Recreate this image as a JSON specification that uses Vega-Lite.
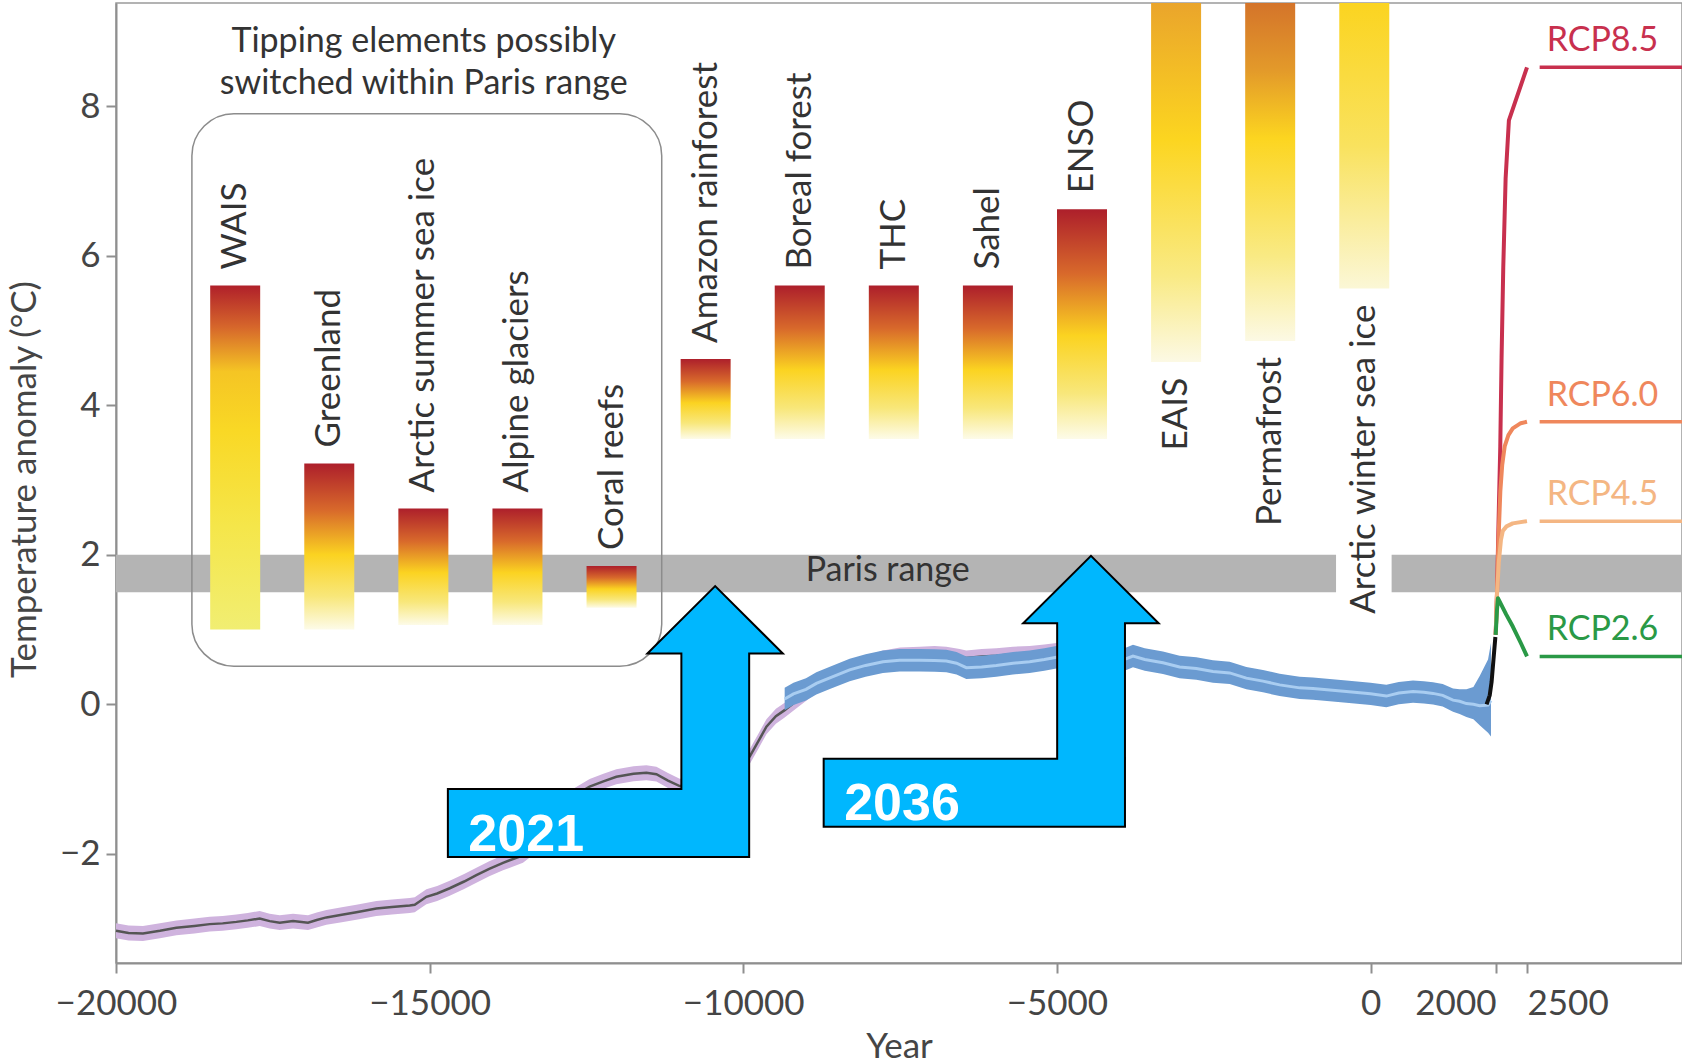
{
  "$schema": "https://vega.github.io/schema/vega-lite/v6.json",
  "autosize": {"type": "none"},
  "padding": {"left": 116, "top": 3, "right": 0, "bottom": 101},
  "width": 1566,
  "height": 960,
  "background": "white",
  "config": {
    "font": "Lato",
    "view": {"stroke": "#9a9a9a", "strokeWidth": 1.5},
    "text": {"font": "Lato"}
  },
  "datasets": {
    "paris": [
      {"x": -20000, "x2": -550, "y": 1.5, "y2": 2.0},
      {"x": 336, "x2": 6000, "y": 1.5, "y2": 2.0}
    ],
    "box": [{"x": -18790, "x2": -11300, "y": 0.51, "y2": 7.9}],
    "shakun": [
      {"x": -20000, "y": -3.03, "lo": -3.13, "hi": -2.93},
      {"x": -19800, "y": -3.06, "lo": -3.16, "hi": -2.96},
      {"x": -19570, "y": -3.065, "lo": -3.165, "hi": -2.965},
      {"x": -19300, "y": -3.03, "lo": -3.13, "hi": -2.93},
      {"x": -19037, "y": -2.99, "lo": -3.09, "hi": -2.89},
      {"x": -18750, "y": -2.965, "lo": -3.065, "hi": -2.865},
      {"x": -18506, "y": -2.94, "lo": -3.04, "hi": -2.84},
      {"x": -18300, "y": -2.93, "lo": -3.03, "hi": -2.83},
      {"x": -18081, "y": -2.91, "lo": -3.01, "hi": -2.81},
      {"x": -17900, "y": -2.89, "lo": -2.99, "hi": -2.79},
      {"x": -17709, "y": -2.865, "lo": -2.965, "hi": -2.765},
      {"x": -17550, "y": -2.9, "lo": -3.0, "hi": -2.8},
      {"x": -17390, "y": -2.92, "lo": -3.02, "hi": -2.82},
      {"x": -17178, "y": -2.9, "lo": -3.0, "hi": -2.8},
      {"x": -16939, "y": -2.92, "lo": -3.02, "hi": -2.82},
      {"x": -16800, "y": -2.885, "lo": -2.985, "hi": -2.785},
      {"x": -16646, "y": -2.85, "lo": -2.95, "hi": -2.75},
      {"x": -16400, "y": -2.815, "lo": -2.915, "hi": -2.715},
      {"x": -16168, "y": -2.78, "lo": -2.88, "hi": -2.68},
      {"x": -15849, "y": -2.73, "lo": -2.83, "hi": -2.63},
      {"x": -15600, "y": -2.71, "lo": -2.81, "hi": -2.61},
      {"x": -15318, "y": -2.69, "lo": -2.79, "hi": -2.59},
      {"x": -15238, "y": -2.68, "lo": -2.78, "hi": -2.58},
      {"x": -15052, "y": -2.575, "lo": -2.675, "hi": -2.475},
      {"x": -14880, "y": -2.53, "lo": -2.63, "hi": -2.43},
      {"x": -14680, "y": -2.46, "lo": -2.56, "hi": -2.36},
      {"x": -14450, "y": -2.37, "lo": -2.47, "hi": -2.27},
      {"x": -14255, "y": -2.285, "lo": -2.385, "hi": -2.185},
      {"x": -14050, "y": -2.2, "lo": -2.3, "hi": -2.1},
      {"x": -13830, "y": -2.12, "lo": -2.22, "hi": -2.02},
      {"x": -13512, "y": -2.02, "lo": -2.12, "hi": -1.92},
      {"x": -13250, "y": -1.85, "lo": -1.95, "hi": -1.75},
      {"x": -13000, "y": -1.55, "lo": -1.65, "hi": -1.45},
      {"x": -12750, "y": -1.25, "lo": -1.35, "hi": -1.15},
      {"x": -12449, "y": -1.1, "lo": -1.2, "hi": -1.0},
      {"x": -12230, "y": -1.03, "lo": -1.13, "hi": -0.93},
      {"x": -12023, "y": -0.97, "lo": -1.07, "hi": -0.87},
      {"x": -11750, "y": -0.93, "lo": -1.03, "hi": -0.83},
      {"x": -11545, "y": -0.916, "lo": -1.016, "hi": -0.816},
      {"x": -11385, "y": -0.934, "lo": -1.034, "hi": -0.834},
      {"x": -11200, "y": -1.02, "lo": -1.12, "hi": -0.92},
      {"x": -11014, "y": -1.094, "lo": -1.194, "hi": -0.994},
      {"x": -10700, "y": -1.08, "lo": -1.18, "hi": -0.98},
      {"x": -10400, "y": -0.95, "lo": -1.05, "hi": -0.85},
      {"x": -10100, "y": -0.8, "lo": -0.9, "hi": -0.7},
      {"x": -9898, "y": -0.7, "lo": -0.8, "hi": -0.6},
      {"x": -9750, "y": -0.48, "lo": -0.58, "hi": -0.38},
      {"x": -9631, "y": -0.3, "lo": -0.4, "hi": -0.2},
      {"x": -9480, "y": -0.16, "lo": -0.26, "hi": -0.06},
      {"x": -9340, "y": -0.078, "lo": -0.178, "hi": 0.022},
      {"x": -9100, "y": 0.08, "lo": -0.02, "hi": 0.18},
      {"x": -8835, "y": 0.25, "lo": 0.15, "hi": 0.35},
      {"x": -8550, "y": 0.37, "lo": 0.27, "hi": 0.47},
      {"x": -8304, "y": 0.46, "lo": 0.36, "hi": 0.56},
      {"x": -8000, "y": 0.56, "lo": 0.46, "hi": 0.66},
      {"x": -7773, "y": 0.62, "lo": 0.52, "hi": 0.72},
      {"x": -7500, "y": 0.66, "lo": 0.56, "hi": 0.76},
      {"x": -7188, "y": 0.67, "lo": 0.57, "hi": 0.77},
      {"x": -6950, "y": 0.68, "lo": 0.58, "hi": 0.78},
      {"x": -6763, "y": 0.67, "lo": 0.57, "hi": 0.77},
      {"x": -6550, "y": 0.64, "lo": 0.54, "hi": 0.74},
      {"x": -6444, "y": 0.62, "lo": 0.52, "hi": 0.72},
      {"x": -6200, "y": 0.64, "lo": 0.54, "hi": 0.74},
      {"x": -5966, "y": 0.65, "lo": 0.55, "hi": 0.75},
      {"x": -5700, "y": 0.67, "lo": 0.57, "hi": 0.77},
      {"x": -5435, "y": 0.68, "lo": 0.58, "hi": 0.78},
      {"x": -5200, "y": 0.7, "lo": 0.6, "hi": 0.8},
      {"x": -5009, "y": 0.72, "lo": 0.62, "hi": 0.82},
      {"x": -4700, "y": 0.72, "lo": 0.62, "hi": 0.82}
    ],
    "marcott": [
      {"x": -9340, "y": 0.07, "lo": -0.08, "hi": 0.22},
      {"x": -9200, "y": 0.14, "lo": -0.01, "hi": 0.29},
      {"x": -9000, "y": 0.2, "lo": 0.05, "hi": 0.35},
      {"x": -8835, "y": 0.28, "lo": 0.13, "hi": 0.43},
      {"x": -8600, "y": 0.36, "lo": 0.21, "hi": 0.51},
      {"x": -8304, "y": 0.46, "lo": 0.31, "hi": 0.61},
      {"x": -8050, "y": 0.52, "lo": 0.37, "hi": 0.67},
      {"x": -7773, "y": 0.57, "lo": 0.42, "hi": 0.72},
      {"x": -7507, "y": 0.59, "lo": 0.44, "hi": 0.74},
      {"x": -7188, "y": 0.59, "lo": 0.44, "hi": 0.74},
      {"x": -6950, "y": 0.585, "lo": 0.435, "hi": 0.735},
      {"x": -6763, "y": 0.58, "lo": 0.43, "hi": 0.73},
      {"x": -6600, "y": 0.55, "lo": 0.4, "hi": 0.7},
      {"x": -6444, "y": 0.49, "lo": 0.34, "hi": 0.64},
      {"x": -6200, "y": 0.5, "lo": 0.35, "hi": 0.65},
      {"x": -5966, "y": 0.52, "lo": 0.37, "hi": 0.67},
      {"x": -5700, "y": 0.55, "lo": 0.4, "hi": 0.7},
      {"x": -5435, "y": 0.57, "lo": 0.42, "hi": 0.72},
      {"x": -5200, "y": 0.6, "lo": 0.45, "hi": 0.75},
      {"x": -5009, "y": 0.63, "lo": 0.48, "hi": 0.78},
      {"x": -4500, "y": 0.63, "lo": 0.48, "hi": 0.78},
      {"x": -4200, "y": 0.62, "lo": 0.47, "hi": 0.77},
      {"x": -3893, "y": 0.61, "lo": 0.46, "hi": 0.76},
      {"x": -3787, "y": 0.645, "lo": 0.495, "hi": 0.795},
      {"x": -3600, "y": 0.6, "lo": 0.45, "hi": 0.75},
      {"x": -3309, "y": 0.555, "lo": 0.405, "hi": 0.705},
      {"x": -3044, "y": 0.5, "lo": 0.35, "hi": 0.65},
      {"x": -2777, "y": 0.48, "lo": 0.33, "hi": 0.63},
      {"x": -2512, "y": 0.44, "lo": 0.29, "hi": 0.59},
      {"x": -2246, "y": 0.42, "lo": 0.27, "hi": 0.57},
      {"x": -1980, "y": 0.35, "lo": 0.2, "hi": 0.5},
      {"x": -1715, "y": 0.31, "lo": 0.16, "hi": 0.46},
      {"x": -1449, "y": 0.26, "lo": 0.11, "hi": 0.41},
      {"x": -1130, "y": 0.22, "lo": 0.07, "hi": 0.37},
      {"x": -917, "y": 0.21, "lo": 0.06, "hi": 0.36},
      {"x": -650, "y": 0.19, "lo": 0.04, "hi": 0.34},
      {"x": -386, "y": 0.17, "lo": 0.02, "hi": 0.32},
      {"x": 0, "y": 0.14, "lo": -0.01, "hi": 0.29},
      {"x": 252, "y": 0.11, "lo": -0.04, "hi": 0.26},
      {"x": 450, "y": 0.15, "lo": 0.0, "hi": 0.3},
      {"x": 677, "y": 0.17, "lo": 0.02, "hi": 0.32},
      {"x": 850, "y": 0.16, "lo": 0.01, "hi": 0.31},
      {"x": 996, "y": 0.146, "lo": -0.004, "hi": 0.296},
      {"x": 1150, "y": 0.12, "lo": -0.03, "hi": 0.27},
      {"x": 1315, "y": 0.056, "lo": -0.1, "hi": 0.21},
      {"x": 1420, "y": 0.04, "lo": -0.13, "hi": 0.2},
      {"x": 1528, "y": 0.01, "lo": -0.17, "hi": 0.2},
      {"x": 1640, "y": 0.0, "lo": -0.2, "hi": 0.23},
      {"x": 1740, "y": -0.02, "lo": -0.28, "hi": 0.38},
      {"x": 1873, "y": -0.01, "lo": -0.38, "hi": 0.6},
      {"x": 1920, "y": 0.05, "lo": -0.43, "hi": 0.82}
    ],
    "inst": [
      {"x": 1850, "y": 0.0},
      {"x": 1900, "y": 0.12},
      {"x": 1930, "y": 0.3},
      {"x": 1960, "y": 0.6},
      {"x": 1990, "y": 0.9}
    ],
    "rcp": [
      {"s": "RCP8.5", "x": 1995, "y": 0.93},
      {"s": "RCP8.5", "x": 2015, "y": 1.45},
      {"s": "RCP8.5", "x": 2040, "y": 2.4},
      {"s": "RCP8.5", "x": 2069, "y": 3.45},
      {"s": "RCP8.5", "x": 2090, "y": 4.64},
      {"s": "RCP8.5", "x": 2117, "y": 5.84},
      {"s": "RCP8.5", "x": 2155, "y": 7.03},
      {"s": "RCP8.5", "x": 2208, "y": 7.81},
      {"s": "RCP8.5", "x": 2500, "y": 8.52},
      {"s": "RCP6.0", "x": 1995, "y": 0.93},
      {"s": "RCP6.0", "x": 2015, "y": 1.45},
      {"s": "RCP6.0", "x": 2040, "y": 2.2},
      {"s": "RCP6.0", "x": 2070, "y": 2.85},
      {"s": "RCP6.0", "x": 2100, "y": 3.2},
      {"s": "RCP6.0", "x": 2140, "y": 3.45},
      {"s": "RCP6.0", "x": 2200, "y": 3.6},
      {"s": "RCP6.0", "x": 2270, "y": 3.69},
      {"s": "RCP6.0", "x": 2400, "y": 3.76},
      {"s": "RCP6.0", "x": 2500, "y": 3.78},
      {"s": "RCP4.5", "x": 1995, "y": 0.93},
      {"s": "RCP4.5", "x": 2015, "y": 1.45},
      {"s": "RCP4.5", "x": 2045, "y": 1.9},
      {"s": "RCP4.5", "x": 2080, "y": 2.2},
      {"s": "RCP4.5", "x": 2110, "y": 2.32},
      {"s": "RCP4.5", "x": 2170, "y": 2.38},
      {"s": "RCP4.5", "x": 2270, "y": 2.42},
      {"s": "RCP4.5", "x": 2500, "y": 2.45},
      {"s": "RCP2.6", "x": 1995, "y": 0.93},
      {"s": "RCP2.6", "x": 2015, "y": 1.25},
      {"s": "RCP2.6", "x": 2031, "y": 1.42},
      {"s": "RCP2.6", "x": 2166, "y": 1.2},
      {"s": "RCP2.6", "x": 2271, "y": 1.04},
      {"s": "RCP2.6", "x": 2400, "y": 0.82},
      {"s": "RCP2.6", "x": 2500, "y": 0.64}
    ],
    "rcpflat": [
      {"s": "RCP8.5", "x": 2704, "x2": 6000, "y": 8.52},
      {"s": "RCP6.0", "x": 2704, "x2": 6000, "y": 3.78},
      {"s": "RCP4.5", "x": 2704, "x2": 6000, "y": 2.45},
      {"s": "RCP2.6", "x": 2704, "x2": 6000, "y": 0.64}
    ],
    "bars": [
      {"name": "WAIS", "g": "wais", "pos": "above", "x": -18100, "y": 1.0, "y2": 5.6},
      {"name": "Greenland", "g": "std", "pos": "above", "x": -16600, "y": 1.0, "y2": 3.22},
      {"name": "Arctic summer sea ice", "g": "std", "pos": "above", "x": -15100, "y": 1.06, "y2": 2.62},
      {"name": "Alpine glaciers", "g": "std", "pos": "above", "x": -13600, "y": 1.06, "y2": 2.62},
      {"name": "Coral reefs", "g": "std", "pos": "above", "x": -12100, "y": 1.29, "y2": 1.85},
      {"name": "Amazon rainforest", "g": "std", "pos": "above", "x": -10600, "y": 3.55, "y2": 4.62},
      {"name": "Boreal forest", "g": "std", "pos": "above", "x": -9100, "y": 3.55, "y2": 5.6},
      {"name": "THC", "g": "std", "pos": "above", "x": -7600, "y": 3.55, "y2": 5.6},
      {"name": "Sahel", "g": "std", "pos": "above", "x": -6100, "y": 3.55, "y2": 5.6},
      {"name": "ENSO", "g": "std", "pos": "above", "x": -4600, "y": 3.55, "y2": 6.62},
      {"name": "EAIS", "g": "eais", "pos": "below", "x": -3100, "y": 4.58, "y2": 9.38},
      {"name": "Permafrost", "g": "perma", "pos": "below", "x": -1600, "y": 4.86, "y2": 9.38},
      {"name": "Arctic winter sea ice", "g": "winter", "pos": "below", "x": -100, "y": 5.56, "y2": 9.38}
    ],
    "notes": [
      {"t": "Tipping elements possibly", "x": -15095, "y": 8.73},
      {"t": "switched within Paris range", "x": -15095, "y": 8.165},
      {"t": "Paris range", "x": -7698, "y": 1.655}
    ],
    "arrows": [
      {"t": "2021", "x": -12039, "y": -0.23},
      {"t": "2036", "x": -6048, "y": 0.174}
    ]
  },
  "encoding": {
    "x": {
      "field": "x",
      "type": "quantitative",
      "scale": {"type": "linear", "domain": [-20000, 2000, 5000], "range": [0, 1380, 1566], "nice": false, "zero": false, "padding": 0},
      "axis": {
        "title": "Year",
        "values": [-20000, -15000, -10000, -5000, 0, 2000, 2500],
        "format": "d",
        "grid": false,
        "domainColor": "#8f8f8f",
        "domainWidth": 2,
        "tickColor": "#8f8f8f",
        "tickWidth": 2,
        "tickSize": 10,
        "labelFont": "Lato",
        "labelFontSize": 35,
        "labelColor": "#454545",
        "labelBaseline": "alphabetic",
        "labelPadding": 41,
        "labelFlush": false,
        "labelOverlap": false,
        "labelAlign": {"condition": [{"test": "datum.value === 2000", "value": "right"}, {"test": "datum.value === 2500", "value": "left"}], "value": "center"},
        "titleFont": "Lato",
        "titleFontSize": 35,
        "titleFontWeight": "normal",
        "titleColor": "#454545",
        "titleX": 783,
        "titleY": 94,
        "titleBaseline": "alphabetic",
        "titleAlign": "center"
      }
    },
    "y": {
      "field": "y",
      "type": "quantitative",
      "scale": {"domain": [-3.46, 9.38], "nice": false, "zero": false, "padding": 0},
      "axis": {
        "title": "Temperature anomaly (°C)",
        "orient": "left",
        "values": [-2, 0, 2, 4, 6, 8],
        "format": "d",
        "grid": false,
        "domainColor": "#8f8f8f",
        "domainWidth": 2,
        "tickColor": "#8f8f8f",
        "tickWidth": 2,
        "tickSize": 10,
        "labelFont": "Lato",
        "labelFontSize": 35,
        "labelColor": "#454545",
        "labelPadding": 6,
        "labelOverlap": false,
        "titleFont": "Lato",
        "titleFontSize": 35,
        "titleFontWeight": "normal",
        "titleColor": "#454545",
        "titleAngle": 270,
        "titleX": -92,
        "titleY": 476,
        "titleBaseline": "middle",
        "titleAlign": "center"
      }
    }
  },
  "layer": [
    {
      "data": {"name": "paris"},
      "mark": {"type": "rect", "color": "#b4b4b4"},
      "encoding": {"x2": {"field": "x2"}, "y2": {"field": "y2"}}
    },
    {
      "data": {"name": "box"},
      "mark": {"type": "rect", "fill": "transparent", "stroke": "#8c8c8c", "strokeWidth": 1.5, "cornerRadius": 42},
      "encoding": {"x2": {"field": "x2"}, "y2": {"field": "y2"}}
    },
    {
      "data": {"name": "shakun"},
      "mark": {"type": "area", "color": "#cfb3de"},
      "encoding": {"y": {"field": "lo", "type": "quantitative"}, "y2": {"field": "hi"}}
    },
    {
      "data": {"name": "shakun"},
      "mark": {"type": "line", "color": "#555555", "strokeWidth": 2.5},
      "encoding": {}
    },
    {
      "data": {"name": "marcott"},
      "mark": {"type": "area", "color": "#6b9bd1"},
      "encoding": {"y": {"field": "lo", "type": "quantitative"}, "y2": {"field": "hi"}}
    },
    {
      "data": {"name": "marcott"},
      "mark": {"type": "line", "color": "#a9cdf1", "strokeWidth": 3},
      "encoding": {}
    },
    {
      "data": {"name": "inst"},
      "mark": {"type": "line", "color": "#111111", "strokeWidth": 4},
      "encoding": {}
    },
    {
      "data": {"name": "rcp"},
      "mark": {"type": "line", "strokeWidth": 4, "strokeJoin": "round"},
      "encoding": {
        "color": {"field": "s", "type": "nominal", "sort": null, "scale": {"domain": ["RCP8.5", "RCP6.0", "RCP4.5", "RCP2.6"], "range": ["#c8304e", "#ef875c", "#f4b683", "#2a9946"]}, "legend": null}
      }
    },
    {
      "data": {"name": "rcpflat"},
      "mark": {"type": "rule", "strokeWidth": 3.5},
      "encoding": {
        "x2": {"field": "x2"},
        "color": {"field": "s", "type": "nominal", "sort": null, "scale": {"domain": ["RCP8.5", "RCP6.0", "RCP4.5", "RCP2.6"], "range": ["#c8304e", "#ef875c", "#f4b683", "#2a9946"]}, "legend": null}
      }
    },
    {
      "data": {"name": "bars"},
      "transform": [{"filter": "datum.g === 'std'"}],
      "mark": {"type": "bar", "width": 50, "fill": {"gradient": "linear", "x1": 0, "y1": 0, "x2": 0, "y2": 1, "stops": [{"offset": 0, "color": "#ad1f2b"}, {"offset": 0.28, "color": "#d8692b"}, {"offset": 0.55, "color": "#fbd321"}, {"offset": 0.8, "color": "#f8e77a"}, {"offset": 1, "color": "#fdfbe8"}]}},
      "encoding": {"y2": {"field": "y2"}}
    },
    {
      "data": {"name": "bars"},
      "transform": [{"filter": "datum.g === 'wais'"}],
      "mark": {"type": "bar", "width": 50, "fill": {"gradient": "linear", "x1": 0, "y1": 0, "x2": 0, "y2": 1, "stops": [{"offset": 0, "color": "#b0202a"}, {"offset": 0.12, "color": "#d6662b"}, {"offset": 0.25, "color": "#f5c524"}, {"offset": 0.42, "color": "#f9d825"}, {"offset": 0.7, "color": "#f5e64a"}, {"offset": 1, "color": "#f1ee72"}]}},
      "encoding": {"y2": {"field": "y2"}}
    },
    {
      "data": {"name": "bars"},
      "transform": [{"filter": "datum.g === 'eais'"}],
      "mark": {"type": "bar", "width": 50, "fill": {"gradient": "linear", "x1": 0, "y1": 0, "x2": 0, "y2": 1, "stops": [{"offset": 0, "color": "#eaa52b"}, {"offset": 0.38, "color": "#fcd520"}, {"offset": 0.76, "color": "#f9ea84"}, {"offset": 1, "color": "#fcf9e4"}]}},
      "encoding": {"y2": {"field": "y2"}}
    },
    {
      "data": {"name": "bars"},
      "transform": [{"filter": "datum.g === 'perma'"}],
      "mark": {"type": "bar", "width": 50, "fill": {"gradient": "linear", "x1": 0, "y1": 0, "x2": 0, "y2": 1, "stops": [{"offset": 0, "color": "#d4742a"}, {"offset": 0.2, "color": "#e39a2a"}, {"offset": 0.4, "color": "#fcd520"}, {"offset": 0.75, "color": "#f9ea84"}, {"offset": 1, "color": "#fcf9e4"}]}},
      "encoding": {"y2": {"field": "y2"}}
    },
    {
      "data": {"name": "bars"},
      "transform": [{"filter": "datum.g === 'winter'"}],
      "mark": {"type": "bar", "width": 50, "fill": {"gradient": "linear", "x1": 0, "y1": 0, "x2": 0, "y2": 1, "stops": [{"offset": 0, "color": "#fbd420"}, {"offset": 0.5, "color": "#f9e25e"}, {"offset": 1, "color": "#fbf7d6"}]}},
      "encoding": {"y2": {"field": "y2"}}
    },
    {
      "data": {"name": "bars"},
      "transform": [{"filter": "datum.pos === 'above'"}],
      "mark": {"type": "text", "angle": 270, "align": "left", "baseline": "middle", "dx": 16, "font": "Lato", "fontSize": 35, "color": "#333333"},
      "encoding": {"y": {"field": "y2", "type": "quantitative"}, "text": {"field": "name"}}
    },
    {
      "data": {"name": "bars"},
      "transform": [{"filter": "datum.pos === 'below'"}],
      "mark": {"type": "text", "angle": 270, "align": "right", "baseline": "middle", "dx": -16, "font": "Lato", "fontSize": 35, "color": "#333333"},
      "encoding": {"text": {"field": "name"}}
    },
    {
      "data": {"name": "notes"},
      "mark": {"type": "text", "align": "center", "baseline": "alphabetic", "font": "Lato", "fontSize": 34, "color": "#333333"},
      "encoding": {"text": {"field": "t"}}
    },
    {
      "data": {"name": "rcpflat"},
      "mark": {"type": "text", "align": "left", "baseline": "alphabetic", "dx": 7, "dy": -16, "font": "Lato", "fontSize": 34},
      "encoding": {
        "text": {"field": "s"},
        "color": {"field": "s", "type": "nominal", "sort": null, "scale": {"domain": ["RCP8.5", "RCP6.0", "RCP4.5", "RCP2.6"], "range": ["#c8304e", "#ef875c", "#f4b683", "#2a9946"]}, "legend": null}
      }
    },
    {
      "data": {"name": "arrows"},
      "mark": {"type": "point", "shape": "M-167.5,67.5L66,67.5L66,-68L32,-68L99.8,-135.4L167.5,-68L133.8,-68L133.8,135.4L-167.5,135.4Z", "size": 4, "filled": true, "fill": "#00b7fe", "stroke": "#000000", "strokeWidth": 2, "opacity": 1, "fillOpacity": 1, "strokeOpacity": 1},
      "encoding": {}
    },
    {
      "data": {"name": "arrows"},
      "mark": {"type": "text", "align": "left", "baseline": "alphabetic", "dx": -147, "dy": 129, "font": "Liberation Sans", "fontWeight": "bold", "fontSize": 52, "color": "#ffffff"},
      "encoding": {"text": {"field": "t"}}
    }
  ]
}
